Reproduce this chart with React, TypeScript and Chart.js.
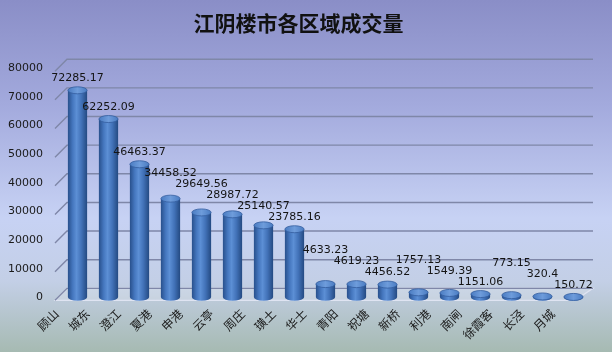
import React, { useEffect, useRef } from "react";
import { Chart, registerables } from "chart.js";

Chart.register(...registerables);

const TITLE = "江阴楼市各区域成交量";
const categories = ["顾山", "城东", "澄江", "夏港", "申港", "云亭", "周庄", "璜土", "华士", "青阳", "祝塘", "新桥", "利港", "南闸", "徐霞客", "长泾", "月城"];
const volumes = [72285.17, 62252.09, 46463.37, 34458.52, 29649.56, 28987.72, 25140.57, 23785.16, 4633.23, 4619.23, 4456.52, 1757.13, 1549.39, 1151.06, 773.15, 320.4, 150.72];
const Y_MAX = 80000;
const Y_STEP = 10000;

const FRONT_DX = -7;
const FRONT_DY = 3;
const BACK_DX = 5;
const BACK_DY = -9;
const GRID_RIGHT_EXTRA = 4;

function bodyGradient(ctx: CanvasRenderingContext2D, cx: number, half: number) {
  const g = ctx.createLinearGradient(cx - half, 0, cx + half, 0);
  g.addColorStop(0, "#28508c");
  g.addColorStop(0.25, "#4577bf");
  g.addColorStop(0.45, "#5c8fd5");
  g.addColorStop(0.7, "#4272b8");
  g.addColorStop(1, "#244a82");
  return g;
}

const scenePlugin = {
  id: "scene",
  beforeDraw(chart: any) {
    const { ctx, width, height } = chart;
    ctx.save();
    const g = ctx.createLinearGradient(0, 0, 0, height);
    g.addColorStop(0, "#8a8ec7");
    g.addColorStop(0.3, "#a3aadd");
    g.addColorStop(0.62, "#c7d2f4");
    g.addColorStop(0.8, "#c3cfe6");
    g.addColorStop(1, "#a6bab2");
    ctx.fillStyle = g;
    ctx.fillRect(0, 0, width, height);
    ctx.restore();
  },
  beforeDatasetsDraw(chart: any) {
    const { ctx, chartArea, scales } = chart;
    const ys = scales.y;
    const left = chartArea.left;
    const right = chartArea.right;
    const y0 = ys.getPixelForValue(0);
    ctx.save();
    // floor
    ctx.beginPath();
    ctx.moveTo(left + FRONT_DX, y0 + FRONT_DY);
    ctx.lineTo(left + BACK_DX, y0 + BACK_DY);
    ctx.lineTo(right + GRID_RIGHT_EXTRA, y0 + BACK_DY);
    ctx.lineTo(right - 14, y0 + FRONT_DY);
    ctx.closePath();
    ctx.fillStyle = "rgba(255,255,255,0.18)";
    ctx.fill();
    ctx.strokeStyle = "#dfe4f2";
    ctx.lineWidth = 1.2;
    ctx.stroke();
    // grid
    ctx.strokeStyle = "#7f87a8";
    ctx.lineWidth = 1.4;
    for (let v = 0; v <= Y_MAX; v += Y_STEP) {
      const y = ys.getPixelForValue(v);
      ctx.beginPath();
      ctx.moveTo(left + FRONT_DX, y + FRONT_DY);
      ctx.lineTo(left + BACK_DX, y + BACK_DY);
      ctx.lineTo(right + GRID_RIGHT_EXTRA, y + BACK_DY);
      ctx.stroke();
    }
    // bottom ellipses
    const meta = chart.getDatasetMeta(0);
    meta.data.forEach((el: any) => {
      const half = el.width / 2;
      ctx.beginPath();
      ctx.ellipse(el.x, el.base, half, 3.5, 0, 0, Math.PI * 2);
      ctx.fillStyle = bodyGradient(ctx, el.x, half);
      ctx.fill();
    });
    ctx.restore();
  },
  afterDatasetsDraw(chart: any) {
    const { ctx } = chart;
    const meta = chart.getDatasetMeta(0);
    const els = meta.data;
    ctx.save();
    els.forEach((el: any) => {
      const half = el.width / 2;
      ctx.beginPath();
      ctx.ellipse(el.x, el.y, half, 3.5, 0, 0, Math.PI * 2);
      const g = ctx.createLinearGradient(el.x - half, 0, el.x + half, 0);
      g.addColorStop(0, "#4a7cc2");
      g.addColorStop(0.5, "#6e9cdb");
      g.addColorStop(1, "#4a7cc2");
      ctx.fillStyle = g;
      ctx.fill();
      ctx.strokeStyle = "#335d9e";
      ctx.lineWidth = 0.8;
      ctx.stroke();
    });
    // labels with simple collision avoidance
    const pos = els.map((el: any) => el.y - 12);
    for (let i = els.length - 2; i >= 0; i--) {
      if (Math.abs(pos[i] - pos[i + 1]) < 11) pos[i] = pos[i + 1] - 11;
    }
    ctx.font = "11px 'DejaVu Sans'";
    ctx.fillStyle = "#141414";
    ctx.textAlign = "center";
    ctx.textBaseline = "middle";
    els.forEach((el: any, i: number) => {
      ctx.fillText(String(volumes[i]), el.x, pos[i]);
    });
    ctx.restore();
  },
};

export default function App() {
  const ref = useRef<HTMLCanvasElement | null>(null);
  useEffect(() => {
    document.body.style.margin = "0";
    const canvas = ref.current!;
    const chart = new Chart(canvas, {
      type: "bar",
      data: {
        labels: categories,
        datasets: [
          {
            data: volumes,
            backgroundColor: (c: any) => {
              const ch = c.chart;
              const xs = ch.scales && ch.scales.x;
              if (!xs || !ch.chartArea) return "#4475bb";
              const cx = xs.getPixelForValue(c.dataIndex);
              const half = (xs.width / categories.length) * 0.62 / 2;
              return bodyGradient(ch.ctx, cx, half);
            },
            borderWidth: 0,
            categoryPercentage: 1,
            barPercentage: 0.62,
          },
        ],
      },
      options: {
        responsive: false,
        animation: false,
        devicePixelRatio: 1,
        layout: { padding: { left: 8, right: 23, top: 0, bottom: 1 } },
        plugins: {
          legend: { display: false },
          tooltip: { enabled: false },
          title: {
            display: true,
            text: TITLE,
            color: "#111",
            font: { family: "'Noto Sans CJK SC'", size: 21, weight: "bold" },
            padding: { top: 10, bottom: 33 },
          },
        },
        scales: {
          x: {
            grid: { display: false, drawTicks: false },
            border: { display: false },
            afterFit: (s: any) => {
              s.paddingLeft = 0;
              s.paddingRight = 0;
            },
            ticks: {
              autoSkip: false,
              minRotation: 45,
              maxRotation: 45,
              padding: 9,
              labelOffset: -21,
              color: "#1a1a1a",
              font: { family: "'Noto Sans CJK SC'", size: 12 },
            },
          },
          y: {
            min: 0,
            max: Y_MAX,
            grid: { display: false, drawTicks: false },
            border: { display: false },
            afterFit: (s: any) => {
              s.width = 54;
            },
            ticks: {
              stepSize: Y_STEP,
              padding: 19,
              color: "#1a1a1a",
              font: { family: "'DejaVu Sans'", size: 11 },
              callback: (v: any) => String(v),
            },
          },
        },
      },
      plugins: [scenePlugin],
    });
    return () => chart.destroy();
  }, []);
  return (
    <div style={{ width: 612, height: 352 }}>
      <canvas ref={ref} width={612} height={352} style={{ display: "block" }} />
    </div>
  );
}
